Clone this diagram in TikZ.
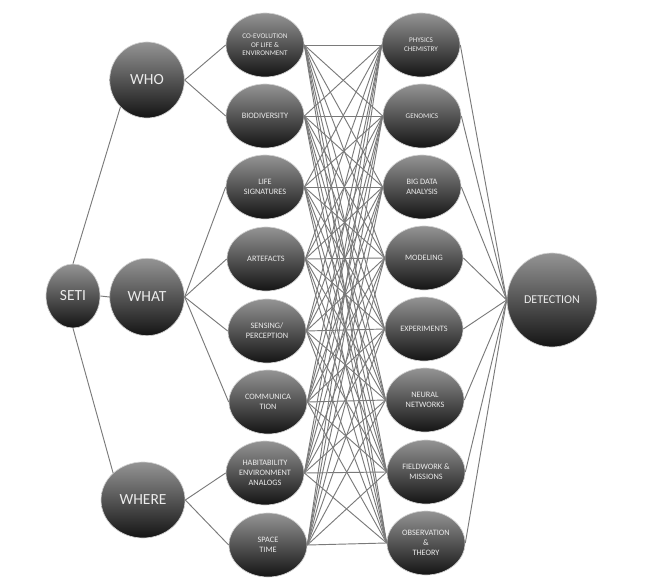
\documentclass[tikz,border=0pt]{standalone}
\usepackage{fontspec}
\newfontfamily\ballfont{Carlito}
\usetikzlibrary{shapes.geometric}
\tikzset{
  ball/.style={ellipse, draw=black!18, line width=0.5pt, top color=black!42, bottom color=black!92,
    text=black!8, inner sep=0pt, align=center, font=\ballfont\fontsize{6.2}{7.5}\selectfont},
  bigball/.style={ball, font=\ballfont\fontsize{11.6}{13}\selectfont},
  topic/.style={ball, minimum width=58.5pt, minimum height=48pt},
  tiny/.style={font=\ballfont\fontsize{5.4}{6.5}\selectfont},
  link/.style={draw=black!52, line width=0.7pt},
}

\begin{document}
\begin{tikzpicture}[x=0.75pt, y=-0.75pt]
\useasboundingbox (0, 0) rectangle (650, 588);
% root and questions
\node [bigball, minimum width=40.5pt, minimum height=48pt] (seti) at (73, 296) {SETI};
\node [bigball, minimum width=56pt, minimum height=57pt] (who) at (147, 80) {WHO};
\node [bigball, minimum width=56pt, minimum height=58pt] (what) at (147, 297) {WHAT};
\node [bigball, minimum width=63pt, minimum height=57pt] (where) at (143, 500) {WHERE};
% topics
\node [topic, tiny] (coevo) at (265, 45) {CO-EVOLUTION\\OF LIFE \&\\ENVIRONMENT};
\node [topic] (biodiv) at (265, 116) {BIODIVERSITY};
\node [topic] (lifesig) at (265, 187) {LIFE\\SIGNATURES};
\node [topic] (artef) at (266, 259) {ARTEFACTS};
\node [topic] (sensing) at (267, 331) {SENSING/\\PERCEPTION};
\node [topic] (commun) at (268, 402) {COMMUNICA\\TION};
\node [topic] (habit) at (265, 473) {HABITABILITY\\ENVIRONMENT\\ANALOGS};
\node [topic] (spacetime) at (268, 545) {SPACE\\TIME};
% methods
\node [topic, tiny] (physchem) at (421, 45) {PHYSICS\\CHEMISTRY};
\node [topic, tiny] (genomics) at (422, 116) {GENOMICS};
\node [topic] (bigdata) at (422, 187) {BIG DATA\\ANALYSIS};
\node [topic] (modeling) at (424, 258) {MODELING};
\node [topic] (experim) at (424, 329) {EXPERIMENTS};
\node [topic] (neural) at (425, 400) {NEURAL\\NETWORKS};
\node [topic] (fieldwork) at (426, 472) {FIELDWORK \&\\MISSIONS};
\node [topic] (observ) at (426, 543) {OBSERVATION\\\&\\THEORY};
% goal
\node [ball, minimum width=67.5pt, minimum height=70.5pt, font=\ballfont\fontsize{9}{11}\selectfont] (detect) at (552, 300) {DETECTION};
% links
\draw [link] (seti.north) -- (who.south west);
\draw [link] (seti.east) -- (what.west);
\draw [link] (seti.south) -- (where.north west);
\foreach \t in {coevo, biodiv}
  \draw [link] (who.east) -- (\t.west);
\foreach \t in {lifesig, artef, sensing, commun}
  \draw [link] (what.east) -- (\t.west);
\foreach \t in {habit, spacetime}
  \draw [link] (where.east) -- (\t.west);
\foreach \t in {coevo, biodiv, lifesig, artef, sensing, commun, habit, spacetime}
  \foreach \m in {physchem, genomics, bigdata, modeling, experim, neural, fieldwork, observ}
    \draw [link] (\t.east) -- (\m.west);
\foreach \m in {physchem, genomics, bigdata, modeling, experim, neural, fieldwork, observ}
  \draw [link] (\m.east) -- (detect.west);
\end{tikzpicture}
\end{document}
